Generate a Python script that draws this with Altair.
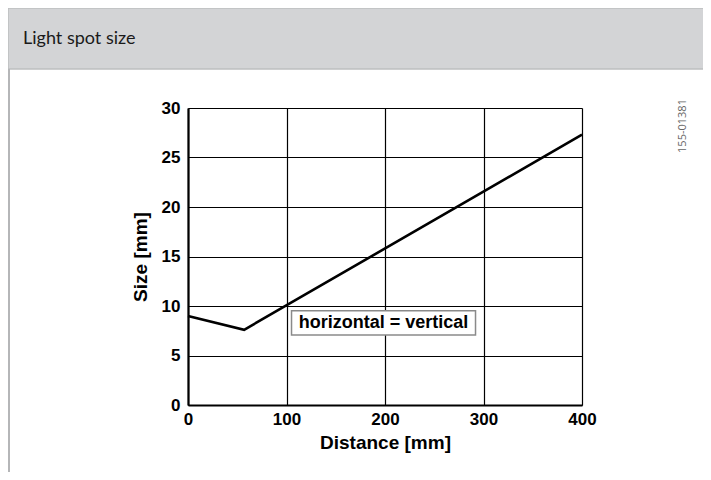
import altair as alt
import pandas as pd

# ---- data ----
distance_mm = [0, 57, 400]
spot_size_mm = [9.0, 7.6, 27.3]
x_ticks = [0, 100, 200, 300, 400]
y_ticks = [0, 5, 10, 15, 20, 25, 30]
header_title = ["Light spot size"]
drawing_code = ["155-01381"]
note_text = ["horizontal = vertical"]
note_x = [198.5]
note_y = [8.3]

curve = pd.DataFrame({"distance": distance_mm, "size": spot_size_mm})
note = pd.DataFrame({"label": note_text, "x": note_x, "y": note_y})
hdr = pd.DataFrame({"t": header_title})
code = pd.DataFrame({"t": drawing_code})

AX = "Liberation Sans"

x_enc = alt.X(
    "distance:Q",
    scale=alt.Scale(domain=[0, 400], nice=False),
    axis=alt.Axis(values=x_ticks, title="Distance [mm]"),
)
y_enc = alt.Y(
    "size:Q",
    scale=alt.Scale(domain=[0, 30], nice=False),
    axis=alt.Axis(values=y_ticks, title="Size [mm]"),
)

line = alt.Chart(curve).mark_line(color="black", strokeWidth=2.6).encode(x=x_enc, y=y_enc)

box_path = "M-1,-0.131 L1,-0.131 L1,0.131 L-1,0.131 Z"
note_box = alt.Chart(note).mark_point(
    shape=box_path, size=184 * 184, filled=True, fill="white", stroke="#8a8a8a",
    strokeWidth=1.5, opacity=1,
).encode(x=alt.X("x:Q"), y=alt.Y("y:Q"))
note_label = alt.Chart(note).mark_text(
    font=AX, fontWeight="bold", fontSize=18, color="black", align="center", baseline="middle",
).encode(x=alt.X("x:Q"), y=alt.Y("y:Q"), text="label:N")

# page decoration (header band, frame line, drawing code)
header_band = alt.Chart(hdr).mark_rect(fill="#d3d4d6", stroke="#bdbec0", strokeWidth=1.5).encode(
    x=alt.value(-180), x2=alt.value(540), y=alt.value(-100), y2=alt.value(-39)
)
frame_left = alt.Chart(hdr).mark_rule(color="#b5b6b8", strokeWidth=2).encode(
    x=alt.value(-179), y=alt.value(-39), y2=alt.value(370)
)
header_text = alt.Chart(hdr).mark_text(
    font="Lato", fontSize=18, color="#1a1a1a", align="left", baseline="alphabetic",
).encode(x=alt.value(-165), y=alt.value(-64), text="t:N")
code_text = alt.Chart(code).mark_text(
    font="Open Sans", fontSize=11, color="#666666", angle=270, align="center", baseline="middle",
).encode(x=alt.value(495), y=alt.value(18), text="t:N")

chart = (
    alt.layer(header_band, frame_left, header_text, code_text, line, note_box, note_label)
    .properties(
        width=394,
        height=297,
        autosize=alt.AutoSizeParams(type="none"),
        padding={"left": 180, "top": 100, "right": 121, "bottom": 67},
        background="white",
    )
    .configure_view(stroke=None)
    .configure_axis(
        labelFont=AX, labelFontWeight="bold", labelFontSize=17, labelColor="black",
        titleFont=AX, titleFontWeight="bold", titleFontSize=19, titleColor="black",
        grid=True, gridColor="black", gridWidth=1.2, gridOpacity=1,
        domainColor="black", domainWidth=2.2, ticks=False, labelFlush=False,
    )
    .configure_axisX(labelPadding=6, titlePadding=6)
    .configure_axisY(labelPadding=8, titlePadding=11)
)

chart.save("out.html", embed_options={"renderer": "svg", "actions": False})
